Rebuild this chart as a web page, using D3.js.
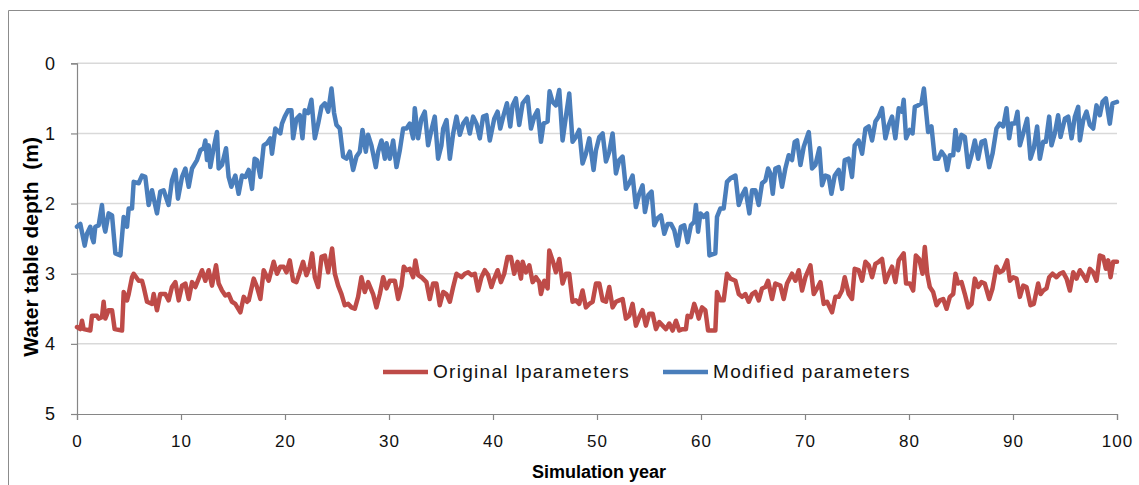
<!DOCTYPE html>
<html>
<head>
<meta charset="utf-8">
<script src="https://cdn.jsdelivr.net/npm/d3@7"></script>
<style>
  html, body { margin: 0; padding: 0; background: #fff; }
  svg { display: block; }
</style>
</head>
<body>
<svg id="chart" width="1139" height="485"></svg>
<script>
// ---------------- DATA ----------------
const xTicks = [0, 10, 20, 30, 40, 50, 60, 70, 80, 90, 100];
const yTicks = [0, 1, 2, 3, 4, 5];
const seriesNames = ["Original lparameters", "Modified parameters"];

// Modified parameters (blue)
const modYears = [0.00,0.32,0.74,0.96,1.28,1.44,1.60,1.76,2.08,2.40,2.56,2.72,3.04,3.37,3.69,4.17,4.49,4.81,4.97,5.29,5.45,5.93,6.25,6.57,6.89,7.21,7.69,8.01,8.33,8.81,9.13,9.46,9.71,10.10,10.42,10.74,11.06,11.54,11.86,12.18,12.34,12.50,12.66,12.82,13.14,13.46,13.62,13.94,14.33,14.58,14.84,15.22,15.54,15.87,16.19,16.51,16.83,17.08,17.31,17.63,17.95,18.27,18.59,18.75,19.07,19.55,19.71,
19.98,20.30,20.62,20.78,21.10,21.42,21.68,21.90,22.22,22.54,22.87,23.19,23.51,23.83,24.15,24.47,24.72,24.95,25.27,25.59,25.91,26.23,26.55,26.87,27.19,27.45,27.77,27.99,28.31,28.73,28.96,29.28,29.60,29.76,30.08,30.40,30.72,31.04,31.36,31.68,32.00,32.32,32.48,32.80,33.12,33.44,33.76,34.08,34.40,34.72,35.04,35.21,35.53,35.85,36.17,36.49,36.81,37.13,37.45,37.77,38.09,38.41,38.73,39.05,39.37,39.69,
40.12,40.44,40.70,41.02,41.34,41.66,41.88,42.20,42.52,42.85,43.33,43.65,43.97,44.29,44.61,44.86,45.25,45.44,45.73,46.05,46.37,46.69,47.01,47.33,47.65,47.97,48.29,48.61,48.93,49.26,49.67,49.90,50.22,50.54,50.86,51.18,51.50,51.82,52.14,52.46,52.78,53.10,53.42,53.74,54.06,54.38,54.61,54.93,55.25,55.51,55.83,56.15,56.47,56.79,57.11,57.43,57.75,58.07,58.39,58.71,59.03,59.35,59.51,
59.72,59.94,60.26,60.58,60.81,61.38,61.54,61.86,62.18,62.50,62.83,63.31,63.63,63.95,64.27,64.65,64.91,65.23,65.55,65.87,66.19,66.45,66.67,66.90,67.15,67.47,67.79,68.11,68.43,68.75,69.01,69.24,69.56,69.88,70.36,70.68,71.00,71.38,71.64,71.96,72.28,72.54,72.86,73.24,73.56,73.82,74.20,74.52,74.78,75.16,75.49,75.81,76.13,76.45,76.77,77.09,77.41,77.73,78.05,78.37,78.69,79.01,79.33,79.49,79.72,
80.08,80.34,80.56,80.88,81.20,81.43,81.68,81.84,82.16,82.48,82.81,83.13,83.45,83.67,83.93,84.25,84.47,84.73,85.05,85.37,85.69,86.01,86.33,86.65,86.97,87.29,87.71,88.03,88.41,88.73,89.06,89.38,89.63,89.86,90.18,90.43,90.66,90.98,91.36,91.68,92.00,92.32,92.58,92.90,93.16,93.48,93.70,94.02,94.34,94.57,94.99,95.31,95.63,95.95,96.27,96.43,96.75,97.07,97.39,97.71,98.03,98.35,98.61,98.93,99.31,99.57,100.00];
const modDepth = [2.33,2.29,2.60,2.43,2.33,2.48,2.55,2.33,2.31,2.02,2.29,2.40,2.14,2.17,2.71,2.74,2.19,2.33,2.07,2.07,1.69,1.71,1.60,1.62,2.02,1.81,2.14,1.83,1.81,2.02,1.67,1.52,1.93,1.62,1.50,1.76,1.50,1.38,1.24,1.21,1.10,1.38,1.17,1.48,1.21,0.98,1.50,1.45,1.21,1.62,1.76,1.60,1.86,1.60,1.62,1.52,1.79,1.36,1.38,1.62,1.17,1.14,1.07,1.29,0.93,1.00,0.86,
0.76,0.67,0.67,1.07,0.79,0.74,1.07,0.67,0.71,0.52,1.07,0.86,0.62,0.57,0.69,0.36,0.71,0.88,0.93,1.33,1.36,1.26,1.52,1.33,1.26,0.95,1.26,1.02,1.17,1.48,1.26,1.10,1.36,1.14,1.36,1.10,1.48,1.24,0.93,0.93,0.86,1.07,0.64,1.07,0.79,0.69,1.17,0.95,0.76,1.36,1.17,0.93,0.81,1.36,1.00,0.76,1.02,0.86,0.79,1.00,0.76,0.86,1.07,0.76,0.74,1.10,
0.79,0.69,0.93,0.74,0.57,0.90,0.60,0.50,0.88,0.57,0.48,0.93,0.76,0.67,1.12,0.86,0.83,0.40,0.55,0.60,0.38,1.10,0.76,0.43,1.12,1.05,0.95,1.43,1.29,1.07,1.52,1.24,1.05,1.00,1.40,1.26,1.00,1.57,1.38,1.33,1.79,1.71,1.60,2.05,1.86,1.74,2.12,1.88,1.83,2.31,2.21,2.17,2.43,2.29,2.29,2.38,2.60,2.33,2.31,2.55,2.31,2.26,2.02,
2.40,2.14,2.19,2.14,2.74,2.71,2.19,2.07,2.07,1.69,1.64,1.60,2.02,1.88,1.79,2.14,1.81,1.81,2.02,1.71,1.67,1.50,1.57,1.86,1.50,1.48,1.76,1.50,1.31,1.38,1.12,1.10,1.45,1.19,0.98,1.50,1.45,1.21,1.74,1.60,1.62,1.86,1.60,1.52,1.79,1.38,1.36,1.62,1.17,1.10,1.29,0.93,0.90,1.10,0.83,0.76,0.64,1.07,0.88,0.76,1.07,0.64,0.69,0.52,1.07,
0.95,1.00,0.62,0.60,0.57,0.36,0.74,0.98,0.90,1.36,1.36,1.26,1.33,1.52,1.31,1.31,0.95,1.24,1.02,1.05,1.48,1.31,1.10,1.36,1.12,1.10,1.48,1.29,0.93,0.86,0.90,0.64,1.07,0.86,0.86,0.69,1.17,1.00,0.79,1.36,1.21,0.90,1.36,1.12,1.12,0.76,1.17,1.00,0.74,1.05,0.79,0.76,1.07,0.76,0.62,1.10,0.81,0.69,0.88,0.93,0.60,0.74,0.55,0.50,0.86,0.57,0.55];

// Original parameters (red)
const origYears = [0.00,0.32,0.48,0.64,1.28,1.44,1.92,2.08,2.40,2.56,2.72,3.04,3.37,3.62,4.33,4.49,4.81,4.97,5.29,5.45,5.93,6.25,6.41,6.73,7.21,7.37,7.69,8.01,8.49,8.81,9.13,9.46,9.78,10.10,10.42,10.74,11.06,11.38,11.70,12.02,12.34,12.66,12.98,13.37,13.62,13.94,14.26,14.58,14.90,15.22,15.71,16.03,16.35,16.51,16.99,17.31,17.63,17.95,18.43,18.91,19.23,19.55,19.87,
20.14,20.46,20.78,21.10,21.42,21.74,22.06,22.38,22.61,22.87,23.19,23.51,23.83,24.15,24.53,24.79,25.11,25.43,25.75,26.07,26.39,26.71,27.03,27.35,27.67,27.99,28.47,28.79,29.12,29.44,29.76,30.08,30.56,30.88,31.20,31.42,31.68,32.00,32.32,32.54,32.80,33.12,33.60,33.92,34.24,34.56,34.88,35.21,35.53,35.85,36.17,36.49,36.97,37.29,37.61,37.93,38.25,38.57,38.89,39.21,39.53,39.85,
40.12,40.44,40.76,41.08,41.40,41.72,42.04,42.36,42.69,42.85,43.17,43.49,43.81,44.13,44.45,44.61,44.93,45.25,45.41,45.73,46.05,46.37,46.69,47.01,47.33,47.65,47.97,48.29,48.61,48.93,49.26,49.58,49.90,50.22,50.54,50.86,51.18,51.50,51.82,52.14,52.46,52.78,53.10,53.42,53.74,54.06,54.38,54.70,55.02,55.35,55.67,55.99,56.31,56.63,56.95,57.27,57.59,57.91,58.23,58.55,58.71,59.03,59.35,59.67,
59.78,60.10,60.42,60.68,61.38,61.54,61.86,62.18,62.50,62.83,63.31,63.63,63.95,64.27,64.59,64.91,65.23,65.55,65.87,66.19,66.45,66.83,67.15,67.63,67.95,68.27,68.75,69.08,69.40,69.72,70.04,70.52,70.84,71.16,71.48,71.80,72.12,72.60,72.92,73.24,73.56,73.82,74.20,74.52,74.78,75.16,75.49,75.81,76.13,76.45,76.77,77.09,77.41,77.73,78.05,78.37,78.69,79.01,79.49,79.72,
80.08,80.40,80.66,80.98,81.30,81.52,81.75,82.00,82.32,82.65,82.97,83.29,83.61,83.93,84.25,84.47,84.73,85.05,85.37,85.69,86.01,86.33,86.65,86.97,87.29,87.71,88.03,88.41,88.73,89.06,89.44,89.70,90.02,90.34,90.66,90.98,91.30,91.68,92.00,92.42,92.65,92.90,93.22,93.48,93.80,94.18,94.50,94.82,95.15,95.47,95.79,96.11,96.43,96.75,97.07,97.39,97.71,98.03,98.35,98.67,98.93,99.15,99.38,99.63,100.00];
const origDepth = [3.76,3.79,3.67,3.79,3.81,3.60,3.60,3.64,3.62,3.40,3.64,3.52,3.52,3.79,3.81,3.26,3.38,3.29,3.05,3.00,3.10,3.10,3.19,3.40,3.43,3.29,3.52,3.29,3.29,3.38,3.19,3.12,3.38,3.17,3.14,3.36,3.12,3.19,3.07,2.95,3.10,2.95,3.17,2.88,3.14,3.24,3.31,3.29,3.40,3.43,3.55,3.33,3.40,3.38,3.07,3.19,3.36,2.95,3.10,2.83,3.00,2.90,2.90,
2.98,2.81,3.10,3.12,2.98,2.83,3.02,2.90,2.71,3.05,3.19,2.76,2.74,2.98,2.64,3.00,3.17,3.29,3.45,3.43,3.48,3.50,3.33,3.05,3.26,3.12,3.29,3.48,3.29,3.05,3.21,3.10,3.10,3.36,3.17,2.90,2.95,2.93,3.05,2.81,3.02,3.05,3.12,3.36,3.14,3.14,3.45,3.26,3.29,3.40,3.19,3.00,3.05,3.00,2.98,3.02,3.00,3.24,3.05,2.95,3.02,3.19,
3.07,2.95,3.12,3.00,2.76,2.76,3.00,2.83,3.07,2.83,2.98,2.88,3.12,3.05,3.12,3.29,3.10,3.21,2.67,2.81,2.98,2.79,3.14,3.00,3.00,3.40,3.38,3.43,3.24,3.48,3.43,3.40,3.14,3.14,3.38,3.40,3.19,3.48,3.40,3.38,3.36,3.64,3.60,3.43,3.74,3.62,3.52,3.74,3.57,3.57,3.79,3.69,3.74,3.79,3.71,3.81,3.67,3.81,3.79,3.79,3.60,3.62,3.43,3.57,
3.64,3.48,3.52,3.81,3.81,3.26,3.38,3.38,3.00,3.07,3.10,3.29,3.33,3.29,3.40,3.29,3.26,3.38,3.21,3.19,3.10,3.36,3.14,3.17,3.36,3.14,3.00,3.10,2.95,3.24,3.05,2.88,3.29,3.21,3.12,3.43,3.40,3.55,3.33,3.33,3.24,3.05,3.29,3.36,2.93,2.95,3.10,2.83,2.88,3.05,2.86,2.83,2.79,3.12,3.00,2.90,3.12,2.81,2.71,3.14,
3.14,3.24,2.74,2.79,3.00,2.62,3.00,3.19,3.26,3.45,3.38,3.36,3.50,3.33,3.29,3.00,3.14,3.12,3.29,3.48,3.43,3.07,3.19,3.12,3.14,3.36,3.21,2.90,2.98,2.95,2.81,3.10,3.05,3.07,3.33,3.17,3.19,3.45,3.43,3.14,3.29,3.24,3.21,3.05,3.00,3.05,3.00,2.98,3.07,3.24,2.98,3.07,2.95,3.02,3.10,2.93,2.98,3.10,2.74,2.76,2.93,2.81,3.05,2.83,2.83];

// ---------------- CHART ----------------
const svg = d3.select("#chart");
const W = 1139, H = 485;
const plotLeft = 77, plotRight = 1117, plotTop = 63.3, plotBottom = 414;
const font = "'Liberation Sans', Arial, sans-serif";

// outer frame
svg.append("path")
  .attr("d", `M8.5,${H + 2} L8.5,10.5 L${W + 2},10.5`)
  .attr("fill", "none").attr("stroke", "#8c8c8c").attr("stroke-width", 1);

const x = d3.scaleLinear().domain([0, 100]).range([plotLeft, plotRight]);
const y = d3.scaleLinear().domain([0, 5]).range([plotTop, plotBottom]);

// gridlines
svg.append("g").selectAll("line")
  .data(yTicks.filter(d => d < 5))
  .join("line")
  .attr("x1", plotLeft).attr("x2", plotRight)
  .attr("y1", d => y(d)).attr("y2", d => y(d))
  .attr("stroke", "#d9d9d9").attr("stroke-width", 1.5);

// y axis
const yAxis = svg.append("g")
  .attr("transform", `translate(${plotLeft},0)`)
  .call(d3.axisLeft(y).tickValues(yTicks).tickSize(6).tickPadding(16).tickFormat(d3.format("d")));
yAxis.select(".domain").attr("stroke", "#868686").attr("stroke-width", 1.2);
yAxis.selectAll(".tick line").attr("stroke", "#868686").attr("stroke-width", 1.2);
yAxis.selectAll(".tick text").attr("font-family", font).attr("font-size", 18).attr("fill", "#111");

// x axis
const xAxis = svg.append("g")
  .attr("transform", `translate(0,${plotBottom})`)
  .call(d3.axisBottom(x).tickValues(xTicks).tickSize(6).tickPadding(15).tickFormat(d3.format("d")));
xAxis.select(".domain").attr("stroke", "#868686").attr("stroke-width", 1.2);
xAxis.selectAll(".tick line").attr("stroke", "#868686").attr("stroke-width", 1.2);
xAxis.selectAll(".tick text").attr("font-family", font).attr("font-size", 17)
  .attr("letter-spacing", "1px").attr("fill", "#111");

// series
const line = d3.line().x(d => x(d[0])).y(d => y(d[1]));
const series = [
  { name: seriesNames[0], color: "#be4b48", data: d3.zip(origYears, origDepth) },
  { name: seriesNames[1], color: "#4a7ebb", data: d3.zip(modYears, modDepth) }
];
svg.append("g").selectAll("path")
  .data(series)
  .join("path")
  .attr("d", d => line(d.data))
  .attr("fill", "none")
  .attr("stroke", d => d.color)
  .attr("stroke-width", 4.5)
  .attr("stroke-linejoin", "round")
  .attr("stroke-linecap", "round");

// axis titles
svg.append("text")
  .attr("x", 599).attr("y", 478)
  .attr("text-anchor", "middle")
  .attr("font-family", font).attr("font-weight", "bold").attr("font-size", 18)
  .text("Simulation year");

svg.append("text")
  .attr("transform", "translate(38,247) rotate(-90)")
  .attr("text-anchor", "middle")
  .attr("font-family", font).attr("font-weight", "bold").attr("font-size", 21)
  .style("white-space", "pre")
  .text("Water table depth  (m)");

// legend
const legendItems = [
  { name: seriesNames[0], color: "#be4b48", x0: 383 },
  { name: seriesNames[1], color: "#4a7ebb", x0: 663 }
];
const lg = svg.append("g").selectAll("g").data(legendItems).join("g")
  .attr("transform", d => `translate(${d.x0},372)`);
lg.append("line").attr("x1", 0).attr("x2", 45).attr("y1", 0).attr("y2", 0)
  .attr("stroke", d => d.color).attr("stroke-width", 4.5);
lg.append("text").attr("x", 50).attr("y", 6)
  .attr("font-family", font).attr("font-size", 19).attr("letter-spacing", "1.3px").attr("fill", "#111")
  .text(d => d.name);
</script>
</body>
</html>
